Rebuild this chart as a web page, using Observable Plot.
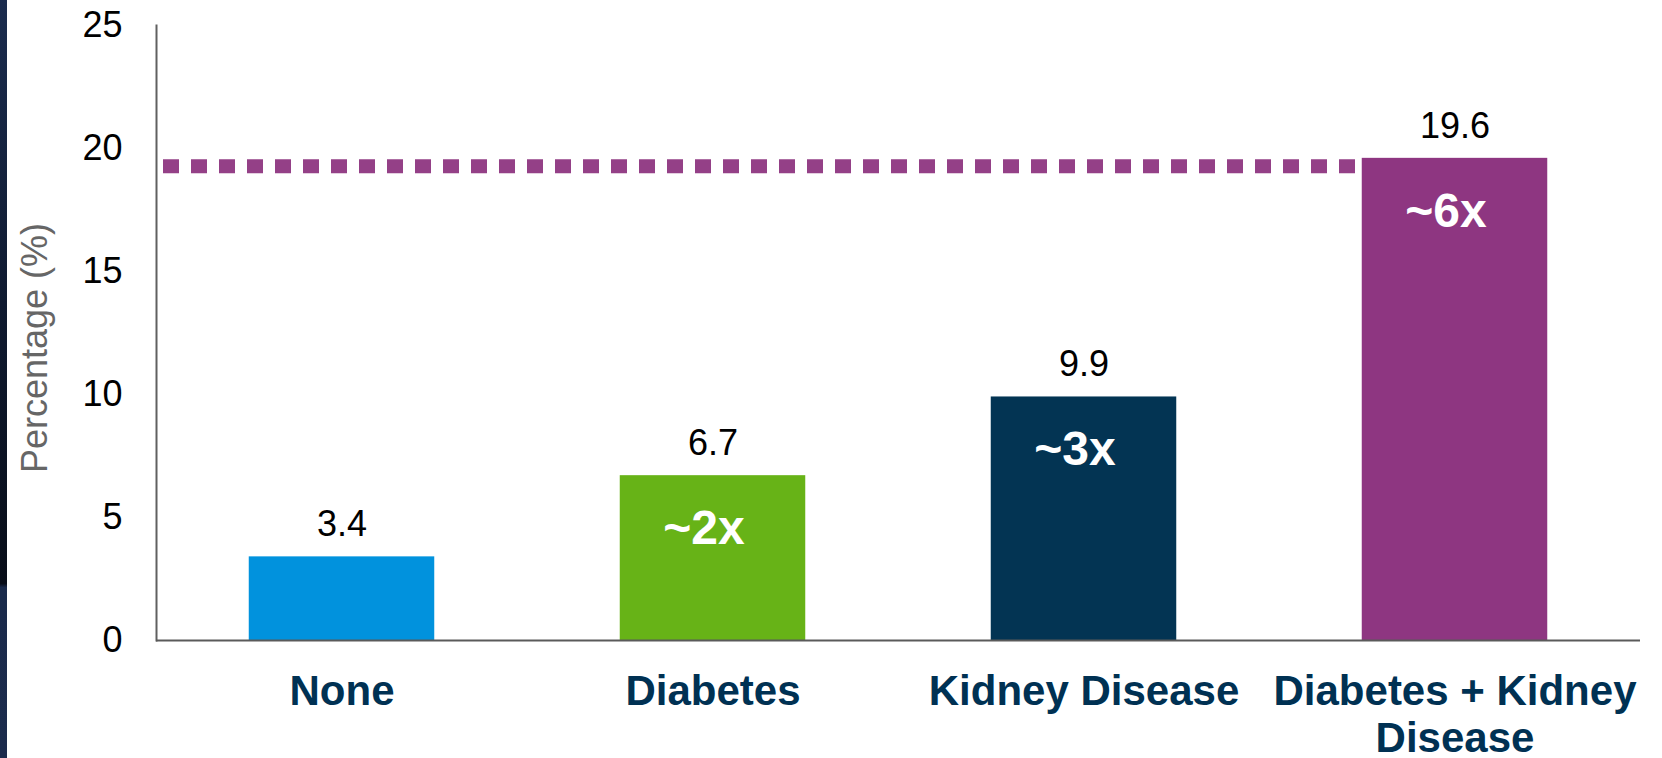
<!DOCTYPE html>
<html>
<head>
<meta charset="utf-8">
<script src="https://cdn.jsdelivr.net/npm/d3@7"></script>
<script src="https://cdn.jsdelivr.net/npm/@observablehq/plot@0.6"></script>
<style>
  html, body { margin: 0; padding: 0; background: #ffffff; }
  #wrap { position: relative; width: 1662px; height: 758px; overflow: hidden; }
  #strip { position: absolute; left: 0; top: 0; width: 7px; height: 758px;
    background: linear-gradient(to bottom, #1b2c4e 0%, #0f1a30 40%, #080d18 77%, #1a2a4b 77.5%, #1b2b4c 100%); }
</style>
</head>
<body>
<div id="wrap"><div id="strip"></div></div>
<script>
// ---- data ----
const categories = ["None", "Diabetes", "Kidney Disease", "Diabetes + Kidney Disease"];
const tickLabels = ["None", "Diabetes", "Kidney Disease", "Diabetes + Kidney\nDisease"];
const values = [3.4, 6.7, 9.9, 19.6];
const multipliers = ["", "~2x", "~3x", "~6x"];
const barColors = ["#0192DD", "#67B317", "#033453", "#8E3681"];
const yTicks = [0, 5, 10, 15, 20, 25];
const referenceValue = [19.6];
const yLabel = "Percentage (%)";

const rows = categories.map((c, i) => ({category: c, value: values[i], mult: multipliers[i]}));

// ---- layout ----
const W = 1662, H = 758;
const mL = 156, mR = 22, mT = 25, mB = 118;
const padIn = 0.5, padOut = 0.25;
const step = (W - mL - mR) / (categories.length - padIn + 2 * padOut);
const ruleInsetRight = step * (padOut + (1 - padIn)) + 5;
const purple = barColors[3];

const chart = Plot.plot({
  width: W,
  height: H,
  marginLeft: mL,
  marginRight: mR,
  marginTop: mT,
  marginBottom: mB,
  style: {fontFamily: "'Liberation Sans', Arial, Helvetica, sans-serif", background: "transparent"},
  x: {domain: categories, paddingInner: padIn, paddingOuter: padOut, round: false},
  y: {domain: [0, 25]},
  color: {domain: categories, range: barColors},
  marks: [
    Plot.ruleY(referenceValue, {stroke: purple, strokeWidth: 14, strokeDasharray: "16,12", insetLeft: 7, insetRight: ruleInsetRight, dy: 8, strokeOpacity: 0.95}),
    Plot.barY(rows, {x: "category", y: "value", fill: "category"}),
    Plot.text(rows, {x: "category", y: "value", text: d => d.value.toFixed(1), dy: -32, fontSize: 36, fill: "#000"}),
    Plot.text(rows, {x: "category", y: "value", text: "mult", dy: 53, dx: -9, fontSize: 48, fontWeight: "bold", fill: "#fff"}),
    Plot.frame({anchor: "left", stroke: "#606060", strokeWidth: 2}),
    Plot.ruleY([0], {stroke: "#5a5a5a", strokeWidth: 2}),
    Plot.axisY({ticks: yTicks, tickSize: 0, tickPadding: 34, fontSize: 36, color: "#000", label: null}),
    Plot.axisX({tickSize: 0, tickPadding: 32, fontSize: 42, fontWeight: "bold", color: "#003153", label: null, lineHeight: 1.1,
      tickFormat: d => tickLabels[categories.indexOf(d)]}),
    Plot.text([yLabel], {text: d => d, frameAnchor: "left", textAnchor: "middle", rotate: -90, dx: -121, dy: 15, fontSize: 36, fill: "#666666"})
  ]
});
document.getElementById("wrap").appendChild(chart);
</script>
</body>
</html>
